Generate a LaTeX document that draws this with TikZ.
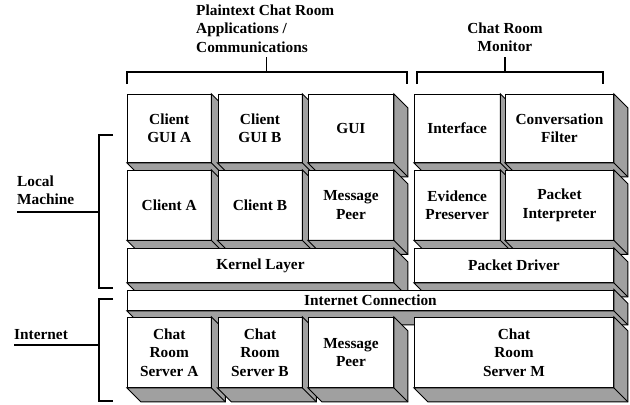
\documentclass[tikz,border=0pt]{standalone}
\usepackage{fontspec}
\setmainfont{Liberation Serif}
\usetikzlibrary{calc}
\definecolor{facegray}{RGB}{160,160,160}
\newcommand\boxfaces[1]{%
  \filldraw[face] (#1.north east) -- ++(14,14) -- ($(#1.south east)+(14,14)$) -- ($(#1.south west)+(14,14)$) -- (#1.south west) -- (#1.south east) -- cycle;
  \draw[face, fill=none] (#1.south east) -- ++(14,14);
}
\newcommand\cube[6]{%
  \pgfmathsetmacro\cubew{#4-#2}\pgfmathsetmacro\cubeh{#5-#3}%
  \node[front, anchor=north west, minimum width=\cubew bp, minimum height=\cubeh bp] (#1) at (#2,#3) {#6};
  \boxfaces{#1}}
\begin{document}
\begin{tikzpicture}[x=1bp,y=-1bp,
  font=\fontsize{15.4}{18.5}\selectfont\bfseries,
  front/.style={draw=black, fill=white, line width=0.9bp, inner sep=0pt, align=center},
  face/.style={draw=black, fill=facegray, line width=0.9bp, line join=miter},
  bracket/.style={draw=black, line width=1.5bp},
  lbl/.style={inner sep=0pt},
]
\useasboundingbox[fill=white] (0,0) rectangle (630,404);

% labels
\node[lbl, align=left, anchor=north west] (plabel) at (196,4.5) {Plaintext Chat Room\\Applications /\\Communications};
\node[lbl, align=center, anchor=north] (mlabel) at (505,22.5) {Chat Room\\Monitor};
\node[lbl, align=left, anchor=north west] (lmlabel) at (17,175.5) {Local\\Machine};
\node[lbl, anchor=north west] (inlabel) at (14,329.5) {Internet};

% brackets
\coordinate (ptick) at (266.7,57);
\coordinate (mtick) at (505,57);
\coordinate (lmend) at (17,212);
\coordinate (inend) at (14,345);
\draw[bracket] (127,84) -- (127,72) -- (407,72) -- (407,84);
\draw[bracket] (ptick) -- (266.7,72);
\draw[bracket] (417,84) -- (417,72) -- (603,72) -- (603,84);
\draw[bracket] (mtick) -- (505,72);
\draw[bracket] (113,135) -- (99,135) -- (99,288) -- (113,288);
\draw[bracket] (99,212) -- (lmend);
\draw[bracket] (113,299) -- (99,299) -- (99,401) -- (113,401);
\draw[bracket] (99,345) -- (inend);

% row 1
\cube{cga}{127}{94}{210.5}{162}{Client\\GUI A}
\cube{cgb}{217.5}{94}{301.5}{162}{Client\\GUI B}
\cube{gui}{308}{94}{393}{162}{GUI}
\cube{intf}{414}{94}{499.5}{162}{Interface}
\cube{cf}{505}{94}{613}{162}{Conversation\\Filter}
% row 2
\cube{ca}{127}{170}{210.5}{239.5}{Client A}
\cube{cb}{217.5}{170}{301.5}{239.5}{Client B}
\cube{mp}{308}{170}{393}{239.5}{Message\\Peer}
\cube{ep}{414}{170}{499.5}{239.5}{Evidence\\Preserver}
\cube{pi}{505}{170}{613}{239.5}{Packet\\Interpreter}
% row 3
\cube{kl}{127}{248}{393}{282}{Kernel Layer}
\cube{pd}{414}{248}{613}{282}{Packet Driver}
% row 4
\cube{ic}{127}{289.5}{613}{310}{Internet Connection}
% row 5
\cube{sa}{127}{317}{210.5}{387}{Chat\\Room\\Server A}
\cube{sb}{217.5}{317}{301.5}{387}{Chat\\Room\\Server B}
\cube{mp2}{308}{317}{393}{387}{Message\\Peer}
\cube{sm}{414}{317}{613}{387}{Chat\\Room\\Server M}
\end{tikzpicture}
\end{document}
